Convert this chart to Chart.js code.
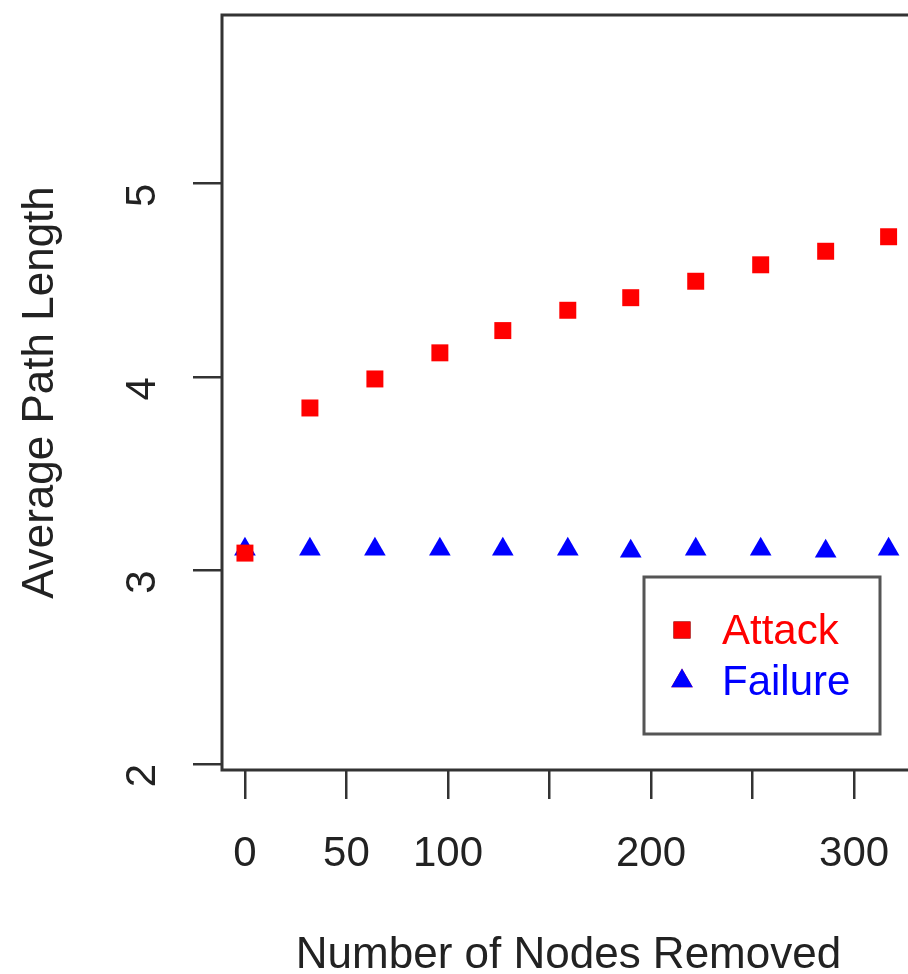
<!DOCTYPE html>
<html>
<head>
<meta charset="utf-8">
<script src="https://cdn.jsdelivr.net/npm/chart.js@4/dist/chart.umd.min.js"></script>
<style>
  html, body { margin: 0; padding: 0; background: #fff; overflow: hidden; }
  #wrap { width: 908px; height: 974px; overflow: hidden; }
</style>
</head>
<body>
<div id="wrap"><canvas id="apl" width="1000" height="1000"></canvas></div>
<script>
// nodes removed at each step
const nodesRemoved = [0, 32, 64, 96, 127, 159, 190, 222, 254, 286, 317];
// average path length, targeted attack vs random failure
const attackAPL  = [3.09, 3.84, 3.99, 4.125, 4.24, 4.345, 4.41, 4.495, 4.58, 4.65, 4.725];
const failureAPL = [3.11, 3.11, 3.11, 3.11, 3.11, 3.11, 3.10, 3.11, 3.11, 3.10, 3.11];

const xTickValues = [0, 50, 100, 150, 200, 250, 300];
const xTickLabels = ["0", "50", "100", "", "200", "", "300"];
const yTickValues = [2, 3, 4, 5];
const yTickLabels = ["2", "3", "4", "5"];

const FONT = "'Liberation Sans', Arial, sans-serif";
const AXIS_COL = "#333";

const toPts = ys => nodesRemoved.map((x, i) => ({ x: x, y: ys[i] }));

// R-style box around the plot plus the inset legend
const boxAndLegend = {
  id: "boxAndLegend",
  afterDraw(chart) {
    const { ctx, chartArea: a } = chart;
    ctx.save();
    ctx.strokeStyle = AXIS_COL;
    ctx.lineWidth = 3;
    ctx.strokeRect(a.left, a.top, a.right - a.left, a.bottom - a.top);

    // legend
    ctx.strokeStyle = "#555";
    ctx.lineWidth = 3;
    ctx.strokeRect(644, 577, 236, 157);
    const items = [
      { label: "Attack",  ds: chart.data.datasets[0], y: 630 },
      { label: "Failure", ds: chart.data.datasets[1], y: 681 }
    ];
    ctx.font = "42px " + FONT;
    ctx.textBaseline = "middle";
    items.forEach(it => {
      Chart.helpers.drawPoint(ctx, {
        pointStyle: it.ds.pointStyle,
        radius: it.ds.pointRadius,
        rotation: 0,
        borderWidth: 0
      }, 682, it.y);
      ctx.fillStyle = it.ds.backgroundColor;
      ctx.fill();
      ctx.fillText(it.label, 722, it.y + 2);
    });
    ctx.restore();
  }
};

new Chart(document.getElementById("apl"), {
  type: "scatter",
  data: {
    datasets: [
      {
        label: "Attack",
        data: toPts(attackAPL),
        pointStyle: "rect",
        pointRadius: 12,
        pointHoverRadius: 12,
        backgroundColor: "#ff0000",
        borderWidth: 0
      },
      {
        label: "Failure",
        data: toPts(failureAPL),
        pointStyle: "triangle",
        pointRadius: 12.5,
        pointHoverRadius: 12.5,
        backgroundColor: "#0000ff",
        borderWidth: 0
      }
    ]
  },
  options: {
    responsive: false,
    animation: false,
    events: [],
    layout: { padding: { top: 15, right: 85, left: 0, bottom: 0 } },
    plugins: {
      legend: { display: false },
      tooltip: { enabled: false }
    },
    scales: {
      x: {
        type: "linear",
        min: -11.3,
        max: 330,
        afterBuildTicks: s => { s.ticks = xTickValues.map(v => ({ value: v })); },
        afterFit: s => { s.height = 230; s.paddingLeft = 0; s.paddingRight = 0; },
        border: { display: false },
        grid: { drawOnChartArea: false, drawTicks: true, tickLength: 29, color: AXIS_COL, lineWidth: 2.5 },
        ticks: {
          autoSkip: false,
          maxRotation: 0,
          color: "#222",
          font: { family: FONT, size: 42 },
          padding: 30,
          callback: (v, i) => xTickLabels[i]
        },
        title: {
          display: true,
          text: "Number of Nodes Removed",
          color: "#222",
          font: { family: FONT, size: 44 },
          padding: { top: 0, bottom: 18 }
        }
      },
      y: {
        type: "linear",
        min: 1.969,
        max: 5.871,
        afterBuildTicks: s => { s.ticks = yTickValues.map(v => ({ value: v })); },
        afterFit: s => { s.width = 222; s.paddingTop = 0; s.paddingBottom = 0; },
        border: { display: false },
        grid: { drawOnChartArea: false, drawTicks: true, tickLength: 29, color: AXIS_COL, lineWidth: 2.5 },
        ticks: {
          autoSkip: false,
          minRotation: 90,
          maxRotation: 90,
          color: "#222",
          font: { family: FONT, size: 42 },
          padding: 50,
          callback: (v, i) => yTickLabels[i]
        },
        title: {
          display: true,
          text: "Average Path Length",
          color: "#222",
          font: { family: FONT, size: 44 },
          padding: { top: 14, bottom: 0 }
        }
      }
    }
  },
  plugins: [boxAndLegend]
});
</script>
</body>
</html>
